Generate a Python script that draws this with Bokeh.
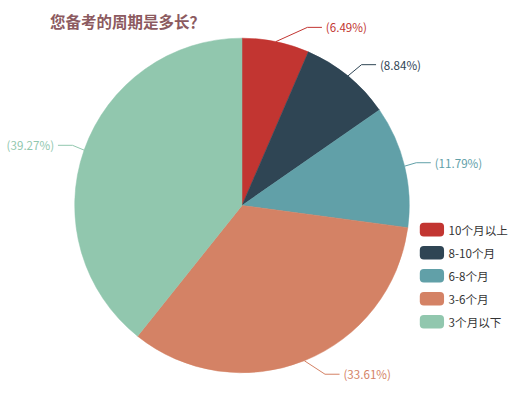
import math
from bokeh.plotting import figure
from bokeh.models import Range1d
from bokeh.core.properties import value
from bokeh.embed import file_html
from bokeh.resources import INLINE

title_text = "您备考的周期是多长？"
categories = ["10个月以上", "8-10个月", "6-8个月", "3-6个月", "3个月以下"]
percents = [6.49, 8.84, 11.79, 33.61, 39.27]
colors = ["#c23531", "#2f4554", "#61a0a8", "#d48265", "#91c7ae"]

REF_W, REF_H = 532, 400
W, H = 516, 384
sx, sy = W / REF_W, H / REF_H
# data coords == reference pixel coords (x), y flipped: yd = 400 - py
p = figure(width=W, height=H, output_backend="svg", toolbar_location=None,
           x_range=Range1d(0, REF_W), y_range=Range1d(0, REF_H),
           min_border=0)
p.axis.visible = False
p.grid.visible = False
p.outline_line_color = None
p.background_fill_color = "white"

FONT = "Noto Sans CJK SC"
cx, cy_px, r = 249, 213.5, 172.5
cy = REF_H - cy_px
len1, len2 = 15, 15
k = sx / sy  # vertical correction so lines meet the (screen-circular) wedge

total = sum(percents)
cum = 0.0
starts, ends = [], []
for v in percents:
    starts.append(math.pi / 2 - 2 * math.pi * cum / total)
    cum += v
    ends.append(math.pi / 2 - 2 * math.pi * cum / total)

p.wedge(x=[cx] * len(percents), y=[cy] * len(percents), radius=r,
        start_angle=starts, end_angle=ends, direction="clock",
        fill_color=colors, line_color=colors, line_width=0.5)

# labels with ECharts-like label lines
for v, s, e, c in zip(percents, starts, ends, colors):
    mid = (s + e) / 2
    ex, ey = cx + r * math.cos(mid), cy + r * math.sin(mid) * k
    ly = cy + (r + len1) * math.sin(mid) * k
    dy = abs(ly - cy) / k
    dx = math.sqrt((r + len1 + len2) ** 2 - dy ** 2)
    right = math.cos(mid) >= 0
    d = 1 if right else -1
    lx = cx + d * dx
    x3 = lx - d * 3
    x2 = x3 - d * len2
    p.line([ex, x2, x3], [ey, ly, ly], line_color=c, line_width=1)
    p.text(x=[lx + d * 1], y=[ly], text=["(%.2f%%)" % v],
           text_color=c, text_font=value(FONT), text_font_size="11.6px",
           text_align="left" if right else "right", text_baseline="middle")

# legend
leg_x, leg_y0, leg_step = 444.8, 238.7, 24
for i, (cat, c) in enumerate(zip(categories, colors)):
    yy = REF_H - (leg_y0 + i * leg_step)
    p.rect(x=[leg_x], y=[yy], width=25, height=14 * k, fill_color=c,
           line_color=None, border_radius=4)
    p.text(x=[462], y=[yy], text=[cat], text_color="#333333",
           text_font=value(FONT), text_font_size="11.6px",
           text_align="left", text_baseline="middle")

# title
p.text(x=[51], y=[REF_H - 21], text=[title_text], text_color="#8c5a60",
       text_font=value(FONT), text_font_size="15.5px", text_font_style="bold",
       text_align="left", text_baseline="middle")

open("out.html", "w").write(file_html(p, INLINE))
